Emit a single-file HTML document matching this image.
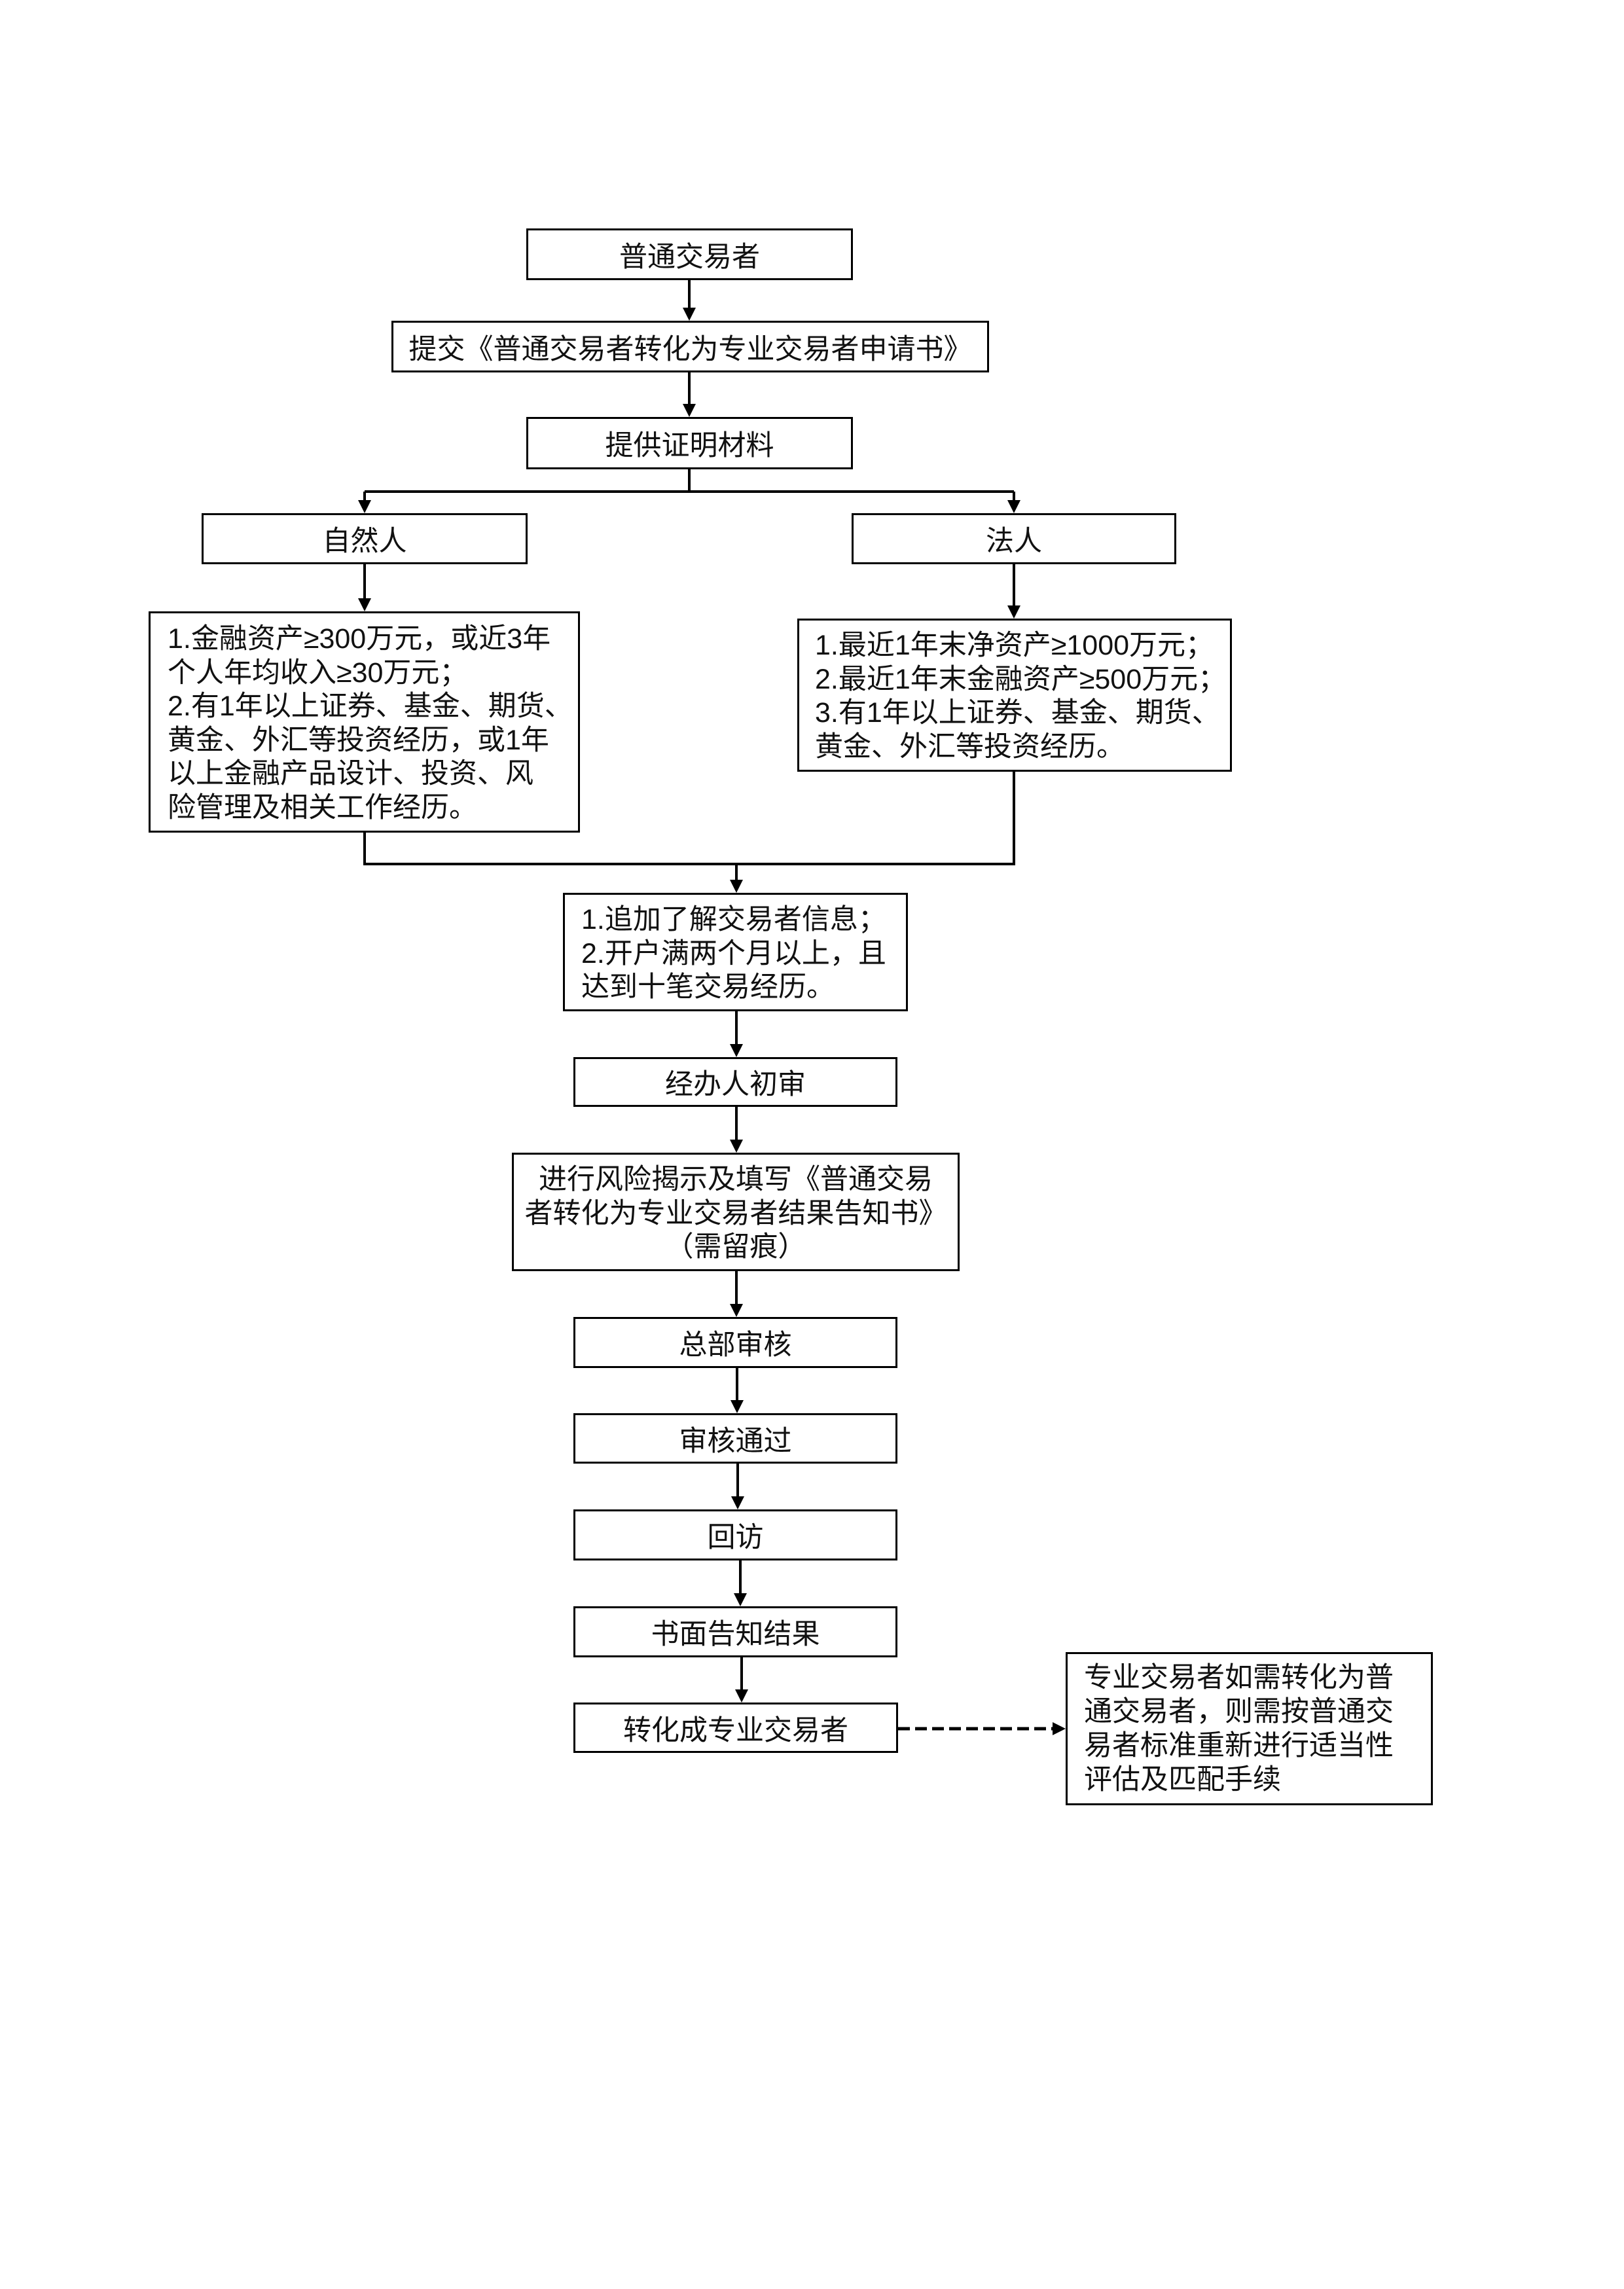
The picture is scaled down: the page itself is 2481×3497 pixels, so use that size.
<!DOCTYPE html>
<html>
<head>
<meta charset="utf-8">
<style>
  html, body { margin:0; padding:0; background:#fff; }
  body { width:2481px; height:3497px; position:relative; overflow:hidden;
         font-family:"Liberation Sans","Noto Sans CJK SC","WenQuanYi Zen Hei",sans-serif;
         color:#111; font-size:43px; }
  .b { position:absolute; box-sizing:border-box; border:3px solid #000; background:#fff; }
  .c { display:flex; align-items:center; justify-content:center; white-space:nowrap; }
  .c span { position:relative; top:0px; }
  .t { position:absolute; white-space:nowrap; line-height:51.5px; }
  .tc { text-align:center; }
  svg { position:absolute; left:0; top:0; }
</style>
</head>
<body>

<svg width="2481" height="3497" viewBox="0 0 2481 3497">
  <g stroke="#000" stroke-width="4" fill="none" stroke-linecap="butt" stroke-linejoin="miter">
    <path d="M1053 428 V472"/>
    <path d="M1053 569 V619"/>
    <path d="M1053 717 V751"/>
    <path d="M557 751 H1549"/>
    <path d="M557 751 V766"/>
    <path d="M1549 751 V766"/>
    <path d="M557 862 V916"/>
    <path d="M1549 862 V927"/>
    <path d="M557 1272 V1320 H1549 V1179"/>
    <path d="M1125 1320 V1346"/>
    <path d="M1125 1545 V1597"/>
    <path d="M1125 1691 V1743"/>
    <path d="M1125 1942 V1994"/>
    <path d="M1126 2090 V2141"/>
    <path d="M1127 2236 V2288"/>
    <path d="M1131 2384 V2436"/>
    <path d="M1133 2532 V2583"/>
    <path d="M1372 2641 H1610" stroke-width="5" stroke-dasharray="18 8"/>
  </g>
  <g fill="#000">
    <polygon points="1043,470 1063,470 1053,490"/>
    <polygon points="1043,617 1063,617 1053,637"/>
    <polygon points="547,764 567,764 557,784"/>
    <polygon points="1539,764 1559,764 1549,784"/>
    <polygon points="547,914 567,914 557,934"/>
    <polygon points="1539,925 1559,925 1549,945"/>
    <polygon points="1115,1344 1135,1344 1125,1364"/>
    <polygon points="1115,1595 1135,1595 1125,1615"/>
    <polygon points="1115,1741 1135,1741 1125,1761"/>
    <polygon points="1115,1992 1135,1992 1125,2012"/>
    <polygon points="1116,2139 1136,2139 1126,2159"/>
    <polygon points="1117,2286 1137,2286 1127,2306"/>
    <polygon points="1121,2434 1141,2434 1131,2454"/>
    <polygon points="1123,2581 1143,2581 1133,2601"/>
    <polygon points="1608,2631 1608,2651 1628,2641"/>
  </g>
</svg>

<div class="b c" style="left:804px;top:349px;width:499px;height:79px;"><span>普通交易者</span></div>
<div class="b c" style="left:598px;top:490px;width:913px;height:79px;"><span>提交《普通交易者转化为专业交易者申请书》</span></div>
<div class="b c" style="left:804px;top:637px;width:499px;height:80px;"><span>提供证明材料</span></div>
<div class="b c" style="left:308px;top:784px;width:498px;height:78px;"><span>自然人</span></div>
<div class="b c" style="left:1301px;top:784px;width:496px;height:78px;"><span>法人</span></div>

<div class="b" style="left:227px;top:934px;width:659px;height:338px;"></div>
<div class="t" style="left:256px;top:951px;">1.金融资产≥300万元，或近3年<br>个人年均收入≥30万元；<br>2.有1年以上证券、基金、期货、<br>黄金、外汇等投资经历，或1年<br>以上金融产品设计、投资、风<br>险管理及相关工作经历。</div>

<div class="b" style="left:1218px;top:945px;width:664px;height:234px;"></div>
<div class="t" style="left:1245px;top:961px;">1.最近1年末净资产≥1000万元；<br>2.最近1年末金融资产≥500万元；<br>3.有1年以上证券、基金、期货、<br>黄金、外汇等投资经历。</div>

<div class="b" style="left:860px;top:1364px;width:527px;height:181px;"></div>
<div class="t" style="left:888px;top:1380px;">1.追加了解交易者信息；<br>2.开户满两个月以上，且<br>达到十笔交易经历。</div>

<div class="b c" style="left:876px;top:1615px;width:495px;height:76px;"><span>经办人初审</span></div>

<div class="b" style="left:782px;top:1761px;width:684px;height:181px;"></div>
<div class="t tc" style="left:782px;width:684px;top:1777px;">进行风险揭示及填写《普通交易<br>者转化为专业交易者结果告知书》<br>（需留痕）</div>

<div class="b c" style="left:876px;top:2012px;width:495px;height:78px;"><span>总部审核</span></div>
<div class="b c" style="left:876px;top:2159px;width:495px;height:77px;"><span>审核通过</span></div>
<div class="b c" style="left:876px;top:2306px;width:495px;height:78px;"><span>回访</span></div>
<div class="b c" style="left:876px;top:2454px;width:495px;height:78px;"><span>书面告知结果</span></div>
<div class="b c" style="left:876px;top:2601px;width:496px;height:77px;"><span>转化成专业交易者</span></div>

<div class="b" style="left:1628px;top:2524px;width:561px;height:234px;"></div>
<div class="t" style="left:1656px;top:2537px;line-height:52px;">专业交易者如需转化为普<br>通交易者，则需按普通交<br>易者标准重新进行适当性<br>评估及匹配手续</div>

</body>
</html>
